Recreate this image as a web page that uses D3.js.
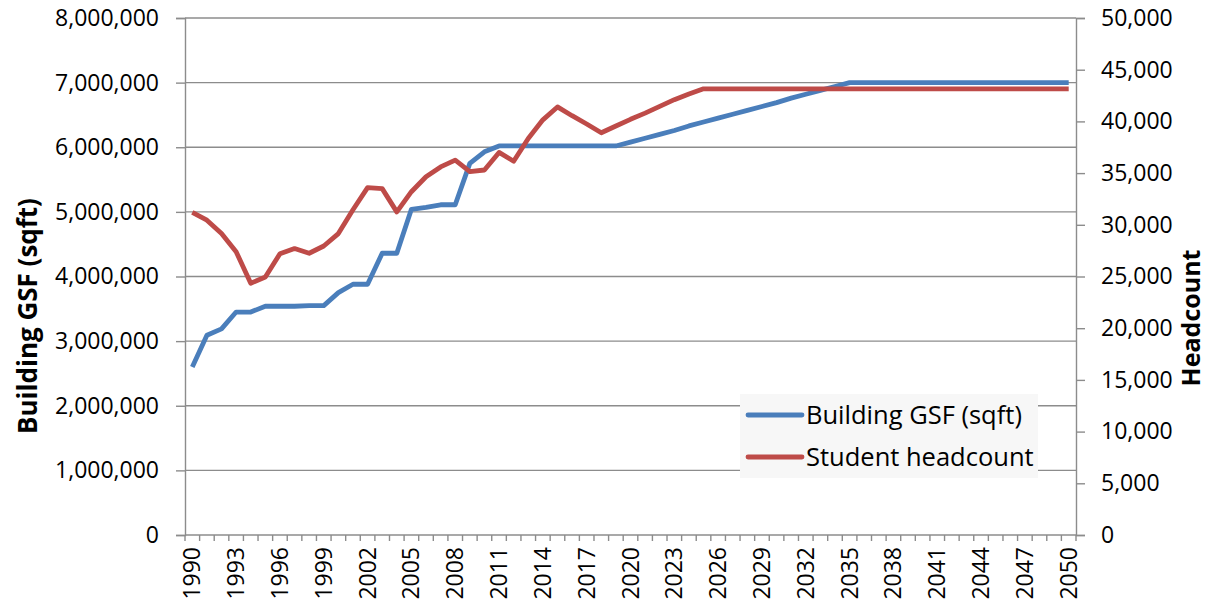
<!DOCTYPE html>
<html>
<head>
<meta charset="utf-8">
<script src="https://cdn.jsdelivr.net/npm/d3@7"></script>
<style>
  body { margin: 0; background: #fff; }
  text { font-family: "Open Sans", "Noto Sans", sans-serif; fill: #000; }
</style>
</head>
<body>
<svg width="1209" height="608"></svg>
<script>
var years = d3.range(1990, 2051);

var gsf = [
    2600000, 3090000, 3190000, 3450000, 3450000, 3540000, 3540000, 3540000, 3550000, 3550000,
    3750000, 3880000, 3880000, 4360000, 4360000, 5040000, 5070000, 5110000, 5110000, 5750000,
    5930000, 6020000,
    6020000, 6020000, 6020000, 6020000, 6020000, 6020000, 6020000, 6020000,
    6080000, 6140000, 6200000, 6260000, 6330000, 6390000, 6450000, 6510000, 6570000, 6630000,
    6690000, 6760000, 6820000, 6880000, 6940000,
    7000000, 7000000, 7000000, 7000000, 7000000, 7000000, 7000000, 7000000,
    7000000, 7000000, 7000000, 7000000, 7000000, 7000000, 7000000, 7000000
];

var headcount = [
    31200, 30450, 29150, 27400, 24350, 24950, 27200, 27700, 27250, 27950,
    29150, 31450, 33600, 33500, 31250, 33200, 34650, 35600, 36250, 35150,
    35300, 37000, 36150, 38350, 40150, 41400, 40550, 39750, 38900, 39550,
    40200, 40800, 41450, 42100, 42650, 43150,
    43150, 43150, 43150, 43150, 43150, 43150, 43150, 43150, 43150, 43150,
    43150, 43150, 43150, 43150, 43150, 43150, 43150, 43150, 43150, 43150,
    43150, 43150, 43150, 43150, 43150
];

var leftTicks = d3.range(0, 8000001, 1000000);
var rightTicks = d3.range(0, 50001, 5000);
var labelYears = years.filter(function(y) { return (y - 1990) % 3 === 0; });

var seriesNames = ["Building GSF (sqft)", "Student headcount"];
var colors = ["#4a7ebb", "#be4b48"];

var svg = d3.select("svg"),
    margin = {top: 18, right: 133, bottom: 73, left: 185},
    width = +svg.attr("width") - margin.left - margin.right,
    height = +svg.attr("height") - margin.top - margin.bottom,
    g = svg.append("g").attr("transform", "translate(" + margin.left + "," + margin.top + ")");

var x = d3.scaleBand().domain(years).range([0, width]);
var yL = d3.scaleLinear().domain([0, 8000000]).range([height, 0]);
var yR = d3.scaleLinear().domain([0, 50000]).range([height, 0]);
var fmt = d3.format(",");
var gridColor = "#8c8c8c";

// gridlines
g.append("g").selectAll("line")
    .data(leftTicks.slice(1))
    .enter().append("line")
    .attr("x1", 0).attr("x2", width)
    .attr("y1", function(d) { return yL(d); })
    .attr("y2", function(d) { return yL(d); })
    .attr("stroke", gridColor)
    .attr("stroke-width", 1.4);

// left axis
var leftAxis = g.append("g")
    .call(d3.axisLeft(yL).tickValues(leftTicks).tickFormat(fmt).tickSize(9).tickPadding(17));
leftAxis.select(".domain").attr("stroke", gridColor).attr("stroke-width", 1.4);
leftAxis.selectAll(".tick line").attr("stroke", gridColor).attr("stroke-width", 1.4);
leftAxis.selectAll("text").style("font-size", "23px");

// right axis
var rightAxis = g.append("g")
    .attr("transform", "translate(" + width + ",0)")
    .call(d3.axisRight(yR).tickValues(rightTicks).tickFormat(fmt).tickSize(9).tickPadding(16));
rightAxis.select(".domain").attr("stroke", gridColor).attr("stroke-width", 1.4);
rightAxis.selectAll(".tick line").attr("stroke", gridColor).attr("stroke-width", 1.4);
rightAxis.selectAll("text").style("font-size", "23px").attr("text-anchor", "start");

// bottom axis: ticks on category boundaries, labels every third year
var bottom = g.append("g").attr("transform", "translate(0," + height + ")");
bottom.append("line")
    .attr("x1", 0).attr("x2", width)
    .attr("stroke", gridColor).attr("stroke-width", 1.4);
bottom.selectAll(".bt")
    .data(years.concat([2051]))
    .enter().append("line")
    .attr("class", "bt")
    .attr("x1", function(d) { return d === 2051 ? width : x(d); })
    .attr("x2", function(d) { return d === 2051 ? width : x(d); })
    .attr("y1", 0).attr("y2", 6)
    .attr("stroke", gridColor).attr("stroke-width", 1.4);
bottom.selectAll(".bl")
    .data(labelYears)
    .enter().append("text")
    .attr("class", "bl")
    .attr("transform", function(d) {
        return "translate(" + (x(d) + x.bandwidth() / 2 + 8) + ",12) rotate(-90)";
    })
    .attr("text-anchor", "end")
    .style("font-size", "23px")
    .text(function(d) { return d; });

// axis titles
svg.append("text")
    .attr("transform", "translate(37,316) rotate(-90)")
    .attr("text-anchor", "middle")
    .style("font-size", "26px")
    .style("font-weight", "bold")
    .text("Building GSF (sqft)");

svg.append("text")
    .attr("transform", "translate(1200,318) rotate(-90)")
    .attr("text-anchor", "middle")
    .style("font-size", "25px")
    .style("font-weight", "bold")
    .text("Headcount");

// lines
var cx = function(i) { return x(years[i]) + x.bandwidth() / 2; };

var lineL = d3.line()
    .x(function(d, i) { return cx(i); })
    .y(function(d) { return yL(d); });

var lineR = d3.line()
    .x(function(d, i) { return cx(i); })
    .y(function(d) { return yR(d); });

g.append("path")
    .datum(gsf)
    .attr("fill", "none")
    .attr("stroke", colors[0])
    .attr("stroke-width", 4.8)
    .attr("stroke-linejoin", "round")
    .attr("d", lineL);

g.append("path")
    .datum(headcount)
    .attr("fill", "none")
    .attr("stroke", colors[1])
    .attr("stroke-width", 4.8)
    .attr("stroke-linejoin", "round")
    .attr("d", lineR);

// legend
var legend = svg.append("g").attr("transform", "translate(740,394)");
legend.append("rect")
    .attr("width", 298).attr("height", 84)
    .attr("fill", "#f7f7f7");
var items = legend.selectAll(".item")
    .data(seriesNames)
    .enter().append("g")
    .attr("transform", function(d, i) { return "translate(0," + (21 + i * 42) + ")"; });
items.append("line")
    .attr("x1", 8).attr("x2", 62)
    .attr("stroke", function(d, i) { return colors[i]; })
    .attr("stroke-width", 4.8)
    .attr("stroke-linecap", "round");
items.append("text")
    .attr("x", 66)
    .attr("dy", "0.35em")
    .style("font-size", "25.5px")
    .text(function(d) { return d; });
</script>
</body>
</html>
